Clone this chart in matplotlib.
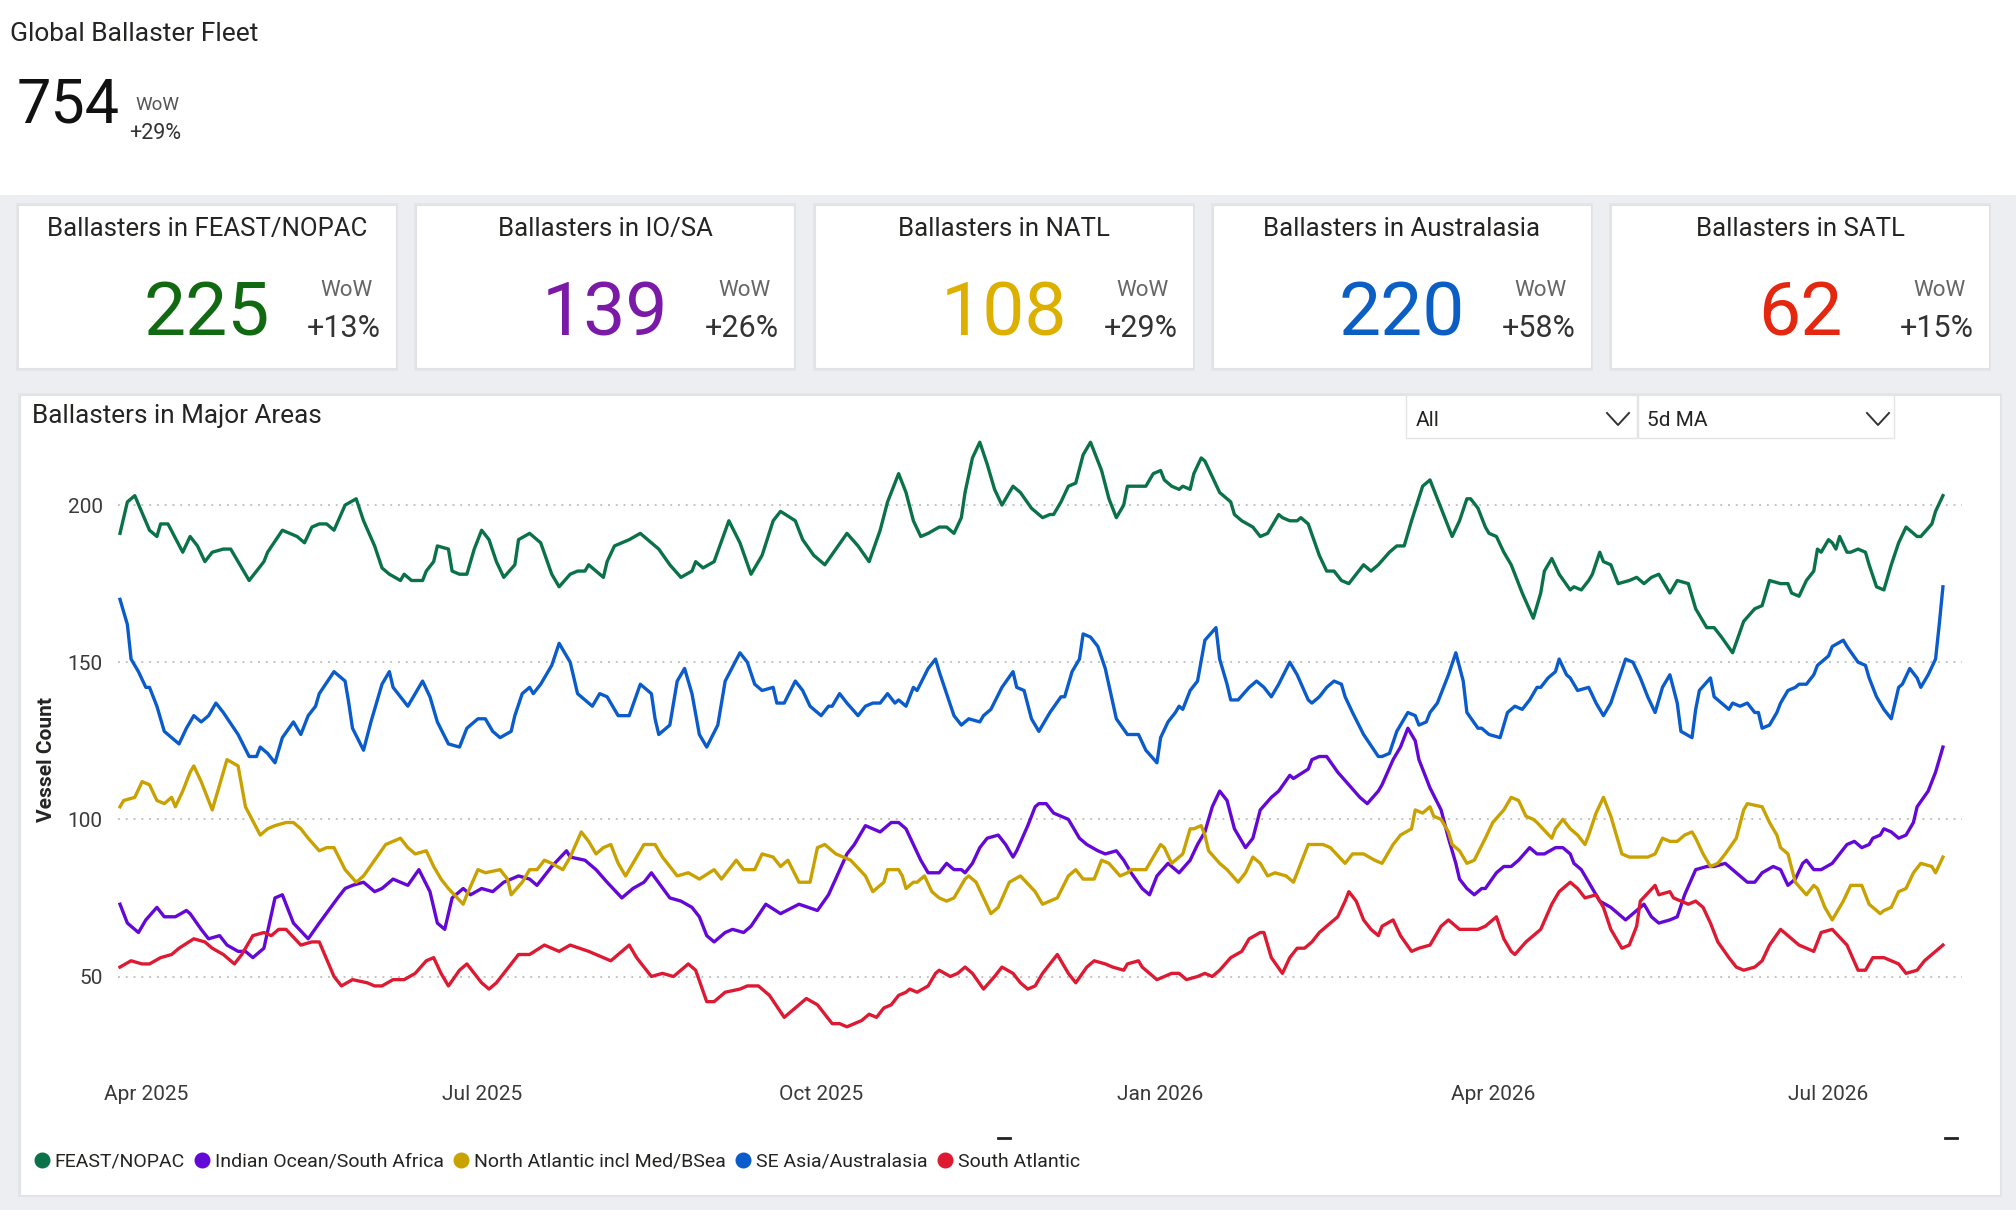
import numpy as np
import matplotlib
matplotlib.use("Agg")
import matplotlib.pyplot as plt
from matplotlib.patches import Rectangle
from matplotlib.lines import Line2D

plt.rcParams['font.family'] = ['Roboto', 'DejaVu Sans']

# ---------------- data ----------------
start_date = '2025-03-25'   # day 0 of the series (5d moving average)

feast_nopac = [(0,191),(2,201),(4,203),(8,192),(10,190),(11,194),(13,194),(17,185),(19,190),(21,187),(23,182),(25,185),(28,186),(30,186),(31,184),(35,176),(37,179),(39,182),(40,185),(44,192),(48,190),(50,188),(52,193),(54,194),(56,194),(58,192),(61,200),(64,202),(66,195),(69,187),(71,180),(73,178),(76,176),(77,178),(79,176),(82,176),(83,179),(85,182),(86,187),(89,186),(90,179),(92,178),(94,178),(96,186),(98,192),(100,189),(102,182),(104,177),(107,181),(108,189),(111,191),(114,188),(117,178),(119,174),(122,178),(124,179),(126,179),(127,181),(131,177),(132,182),(134,187),(136,188),(138,189),(141,191),(144,188),(146,186),(149,181),(152,177),(155,179),(156,182),(158,180),(161,182),(165,195),(168,188),(171,178),(174,184),(177,195),(179,198),(183,195),(185,189),(188,184),(191,181),(194,186),(197,191),(200,187),(203,182),(206,192),(208,201),(211,210),(213,204),(215,195),(217,190),(219,191),(222,193),(224,193),(226,191),(228,196),(229,204),(231,215),(233,220),(235,213),(237,205),(239,200),(242,206),(244,204),(247,199),(250,196),(252,197),(253,197),(255,201),(257,206),(259,207),(261,216),(263,220),(266,211),(268,202),(270,196),(272,200),(273,206),(275,206),(278,206),(280,210),(282,211),(283,208),(285,206),(287,205),(288,206),(290,205),(291,210),(293,215),(294,214),(296,209),(298,204),(301,201),(302,197),(304,195),(307,193),(309,190),(311,191),(314,197),(315,196),(317,195),(319,195),(320,196),(322,194),(325,184),(327,179),(329,179),(331,176),(333,175),(335,178),(337,181),(339,179),(341,181),(344,185),(346,187),(348,187),(350,195),(353,206),(355,208),(357,202),(359,196),(361,190),(363,195),(365,202),(366,202),(368,199),(370,193),(371,191),(373,190),(375,185),(377,181),(378,178),(380,172),(383,164),(385,172),(386,179),(388,183),(390,178),(393,173),(394,174),(396,173),(398,176),(399,178),(401,185),(402,182),(404,181),(406,175),(409,176),(411,177),(413,175),(415,177),(417,178),(420,172),(421,174),(422,176),(425,175),(427,167),(430,161),(432,161),(434,158),(437,153),(440,163),(443,167),(445,168),(447,176),(450,175),(452,175),(453,172),(455,171),(457,176),(459,179),(460,186),(461,185),(463,189),(464,188),(465,186),(466,190),(468,185),(469,185),(471,186),(473,185),(474,181),(476,174),(478,173),(480,181),(482,188),(484,193),(487,190),(488,190),(491,194),(492,198),(494,203)]

indian_ocean = [(0,73),(2,67),(5,64),(7,68),(10,72),(12,69),(15,69),(18,71),(19,70),(22,65),(24,62),(27,63),(29,60),(32,58),(34,58),(36,56),(39,59),(42,75),(44,76),(47,67),(51,62),(54,67),(59,75),(61,78),(63,79),(66,80),(69,77),(71,78),(74,81),(78,79),(81,84),(84,77),(86,67),(88,65),(90,75),(93,78),(95,76),(98,78),(101,77),(104,80),(108,82),(111,81),(113,79),(117,85),(121,90),(122,88),(126,87),(129,84),(132,80),(136,75),(139,78),(142,80),(144,83),(149,75),(152,74),(155,72),(157,69),(159,63),(161,61),(164,64),(166,65),(169,64),(171,66),(175,73),(179,70),(184,73),(189,71),(192,76),(197,89),(199,92),(202,98),(204,97),(206,96),(209,99),(211,99),(213,97),(215,92),(217,87),(219,83),(222,83),(224,86),(226,84),(228,84),(229,83),(231,86),(233,91),(235,94),(238,95),(240,92),(242,88),(243,90),(246,98),(248,104),(249,105),(251,105),(253,102),(255,101),(257,100),(260,94),(262,92),(265,90),(267,89),(270,90),(272,87),(274,83),(277,78),(279,76),(281,82),(284,86),(287,83),(290,87),(292,92),(294,96),(296,104),(298,109),(300,106),(302,97),(305,91),(307,94),(309,103),(312,107),(314,109),(317,114),(318,113),(322,116),(323,119),(325,120),(327,120),(330,115),(333,111),(336,107),(338,105),(341,109),(342,111),(345,119),(347,123),(349,129),(351,125),(352,119),(355,110),(358,103),(360,94),(362,86),(363,81),(365,78),(367,76),(369,78),(370,78),(373,83),(375,85),(377,85),(379,87),(382,91),(384,89),(386,89),(389,91),(391,91),(393,89),(394,86),(396,84),(398,80),(401,74),(404,72),(406,70),(408,68),(411,71),(413,73),(415,69),(417,67),(420,68),(422,69),(424,76),(427,84),(430,85),(432,85),(435,86),(438,83),(441,80),(443,80),(445,83),(448,85),(450,84),(452,79),(454,81),(456,86),(457,87),(459,84),(461,84),(464,86),(466,89),(468,92),(470,93),(472,91),(474,92),(475,94),(477,95),(478,97),(480,96),(482,94),(484,95),(486,99),(487,104),(490,109),(492,115),(494,123)]

north_atlantic = [(0,104),(1,106),(4,107),(6,112),(8,111),(10,106),(12,105),(14,107),(15,104),(17,109),(19,115),(20,117),(22,112),(24,106),(25,103),(27,111),(29,119),(32,117),(34,104),(38,95),(40,97),(42,98),(45,99),(47,99),(49,97),(51,94),(54,90),(56,91),(58,91),(61,84),(64,80),(66,82),(69,87),(72,92),(74,93),(76,94),(78,91),(80,89),(83,90),(85,85),(87,81),(89,78),(93,73),(94,76),(97,84),(99,83),(103,84),(105,81),(106,76),(109,80),(111,84),(113,84),(115,87),(117,86),(120,84),(122,88),(125,96),(127,93),(129,89),(131,91),(133,92),(135,86),(137,82),(140,88),(142,92),(145,92),(147,88),(151,82),(154,83),(157,81),(161,84),(163,81),(167,87),(169,84),(172,84),(174,89),(177,88),(179,85),(181,87),(184,80),(187,80),(189,91),(191,92),(194,89),(198,87),(202,82),(204,77),(205,78),(207,80),(208,84),(211,84),(212,82),(213,78),(215,80),(216,80),(218,82),(220,77),(222,75),(224,74),(226,75),(229,81),(230,82),(232,80),(234,75),(236,70),(238,72),(241,80),(244,82),(248,77),(250,73),(252,74),(254,75),(257,82),(259,84),(261,81),(264,81),(266,87),(268,86),(271,82),(273,83),(274,84),(278,84),(280,88),(282,92),(283,91),(285,86),(288,89),(290,97),(291,97),(293,98),(294,95),(295,90),(298,86),(300,84),(303,80),(305,83),(307,88),(309,86),(311,82),(313,83),(316,82),(318,80),(320,86),(322,92),(324,92),(326,92),(328,91),(332,86),(334,89),(337,89),(340,87),(342,86),(345,92),(347,95),(350,97),(351,103),(353,102),(355,104),(356,101),(358,100),(360,96),(361,92),(363,90),(365,86),(367,87),(370,94),(372,99),(375,103),(377,107),(379,106),(381,101),(383,100),(384,99),(388,94),(389,97),(391,100),(393,97),(395,95),(397,92),(398,95),(400,102),(402,107),(404,101),(407,89),(409,88),(412,88),(414,88),(416,89),(418,94),(420,93),(422,93),(424,95),(426,96),(427,94),(429,89),(431,85),(433,86),(435,89),(438,94),(440,103),(441,105),(445,104),(447,99),(449,95),(450,91),(452,89),(454,80),(457,76),(459,79),(460,78),(462,72),(464,68),(467,74),(469,79),(472,79),(474,73),(477,70),(478,71),(480,72),(482,77),(484,78),(486,83),(488,86),(491,85),(492,83),(494,88)]

se_asia = [(0,170),(2,162),(3,151),(5,147),(7,142),(8,142),(10,136),(12,128),(14,126),(16,124),(18,129),(20,133),(22,131),(24,133),(26,137),(28,134),(32,127),(35,120),(37,120),(38,123),(40,121),(42,118),(44,126),(47,131),(49,127),(51,133),(53,136),(54,140),(58,147),(61,144),(62,137),(63,129),(66,122),(68,131),(71,143),(73,147),(74,142),(78,136),(82,144),(84,139),(86,131),(89,124),(92,123),(94,129),(97,132),(99,132),(101,128),(103,126),(106,128),(107,133),(109,140),(111,142),(112,140),(114,143),(117,149),(119,156),(122,150),(124,140),(128,136),(130,140),(132,139),(135,133),(138,133),(141,143),(144,140),(145,132),(146,127),(149,130),(151,144),(153,148),(155,140),(157,127),(159,123),(162,130),(164,144),(168,153),(170,150),(172,143),(174,141),(177,142),(178,137),(180,137),(183,144),(185,141),(187,136),(190,133),(192,136),(193,136),(195,140),(197,137),(200,133),(202,136),(204,137),(206,137),(208,140),(210,137),(211,138),(213,136),(215,142),(216,141),(219,148),(221,151),(222,147),(224,140),(226,133),(228,130),(230,132),(233,131),(234,133),(236,135),(239,142),(242,147),(243,142),(245,141),(247,132),(249,128),(251,132),(252,134),(255,139),(256,139),(258,147),(260,151),(261,159),(263,158),(265,155),(267,148),(270,132),(273,127),(276,127),(278,122),(281,118),(282,126),(284,131),(286,134),(287,136),(288,135),(290,141),(292,144),(294,157),(297,161),(298,151),(300,143),(301,138),(303,138),(306,142),(308,144),(310,142),(312,139),(314,143),(317,150),(319,146),(322,138),(323,137),(325,139),(327,142),(329,144),(331,143),(332,139),(334,134),(337,127),(341,120),(342,120),(344,121),(346,128),(349,134),(351,133),(352,130),(354,131),(355,134),(357,137),(359,143),(360,146),(362,153),(364,144),(365,134),(368,129),(369,129),(371,127),(374,126),(376,134),(378,136),(380,135),(382,138),(384,142),(385,142),(387,145),(389,147),(390,151),(392,146),(393,145),(395,141),(398,142),(400,137),(402,133),(404,137),(406,144),(408,151),(410,150),(412,145),(414,139),(416,134),(418,142),(420,146),(422,137),(423,128),(426,126),(427,135),(428,141),(431,145),(432,139),(434,137),(436,135),(437,137),(439,136),(441,137),(443,134),(444,134),(445,129),(447,130),(449,134),(450,137),(452,141),(454,142),(455,143),(457,143),(459,146),(460,149),(462,151),(463,152),(464,155),(467,157),(468,155),(471,150),(473,149),(474,145),(476,139),(478,135),(480,132),(482,142),(483,143),(485,148),(487,145),(488,142),(490,146),(492,151),(493,162),(494,174)]

south_atlantic = [(0,53),(3,55),(6,54),(8,54),(11,56),(14,57),(16,59),(20,62),(23,61),(25,59),(28,57),(31,54),(33,57),(36,63),(39,64),(41,63),(43,65),(45,65),(49,60),(52,61),(54,61),(58,50),(60,47),(63,49),(67,48),(69,47),(71,47),(74,49),(77,49),(80,51),(83,55),(85,56),(87,51),(89,47),(92,52),(94,54),(98,48),(100,46),(102,48),(108,57),(111,57),(115,60),(119,58),(122,60),(127,58),(133,55),(138,60),(140,56),(144,50),(147,51),(150,50),(154,54),(156,52),(159,42),(161,42),(164,45),(168,46),(170,47),(173,47),(176,44),(180,37),(182,39),(186,43),(189,41),(193,35),(195,35),(197,34),(201,36),(203,38),(205,37),(207,40),(209,41),(211,44),(213,45),(214,46),(216,45),(219,47),(221,51),(222,52),(225,50),(227,51),(229,53),(231,51),(234,46),(237,50),(239,53),(242,51),(244,48),(246,46),(248,47),(250,51),(254,57),(257,51),(259,48),(262,53),(264,55),(267,54),(269,53),(272,52),(273,54),(276,55),(277,53),(279,51),(281,49),(283,50),(285,51),(287,51),(289,49),(292,50),(294,51),(296,50),(298,52),(301,56),(304,58),(306,62),(309,64),(310,64),(312,56),(315,51),(317,56),(319,59),(321,59),(323,61),(325,64),(327,66),(330,69),(332,74),(333,77),(335,74),(337,68),(339,65),(341,63),(342,66),(345,68),(347,63),(350,58),(352,59),(355,60),(358,66),(360,68),(361,67),(363,65),(365,65),(368,65),(370,66),(373,69),(375,62),(377,58),(378,57),(381,61),(385,65),(388,73),(390,77),(393,80),(395,78),(397,75),(400,76),(402,72),(404,65),(407,59),(409,60),(411,66),(412,74),(416,79),(417,76),(420,77),(421,75),(423,74),(425,73),(427,74),(429,72),(431,67),(433,61),(436,56),(438,53),(440,52),(443,53),(445,55),(447,60),(450,65),(452,63),(455,60),(459,58),(461,64),(464,65),(468,60),(471,52),(473,52),(475,56),(478,56),(480,55),(482,54),(484,51),(487,52),(489,55),(492,58),(494,60)]

series_names = ['FEAST/NOPAC', 'Indian Ocean/South Africa', 'North Atlantic incl Med/BSea',
                'SE Asia/Australasia', 'South Atlantic']
series_data = [feast_nopac, indian_ocean, north_atlantic, se_asia, south_atlantic]
series_colors = ['#0A7249', '#6408D8', '#C9A100', '#0A5BCC', '#DE1A33']

kpi_titles = ['Ballasters in FEAST/NOPAC', 'Ballasters in IO/SA', 'Ballasters in NATL',
              'Ballasters in Australasia', 'Ballasters in SATL']
kpi_values = ['225', '139', '108', '220', '62']
kpi_wow = ['+13%', '+26%', '+29%', '+58%', '+15%']
kpi_colors = ['#116A12', '#7A1AA6', '#DDB000', '#0B5EC3', '#E4280F']

global_title = 'Global Ballaster Fleet'
global_value = '754'
global_wow = '+29%'

x_tick_dates = ['2025-04-01', '2025-07-01', '2025-10-01', '2026-01-01', '2026-04-01', '2026-07-01']
x_tick_labels = ['Apr 2025', 'Jul 2025', 'Oct 2025', 'Jan 2026', 'Apr 2026', 'Jul 2026']
y_ticks = [50, 100, 150, 200]

# ---------------- layout helpers (pixel space) ----------------
W, H = 2016, 1210
fig = plt.figure(figsize=(W / 100, H / 100), dpi=100)
fig.patch.set_facecolor('white')

def fx(x):
    return x / W

def fy(y):
    return 1 - y / H

def rect(x0, y0, x1, y1, fc, ec='none', lw=0, z=0):
    fig.patches.append(Rectangle((fx(x0), fy(y1)), (x1 - x0) / W, (y1 - y0) / H,
                                 transform=fig.transFigure, facecolor=fc,
                                 edgecolor=ec, linewidth=lw, zorder=z))

def text_c(x, yc, s, size, color='#252423', ha='left', weight='normal'):
    # place text so that its cap height is centred on yc (pixels)
    base = yc + 0.355 * size * 100 / 72
    fig.text(fx(x), fy(base), s, fontsize=size, color=color, ha=ha, va='baseline',
             fontweight=weight)

# page background
rect(0, 195, W, H, '#eceef1', z=0)

# KPI cards
card_w = 378
for i in range(5):
    x0 = 18 + i * 398.3
    x1 = x0 + card_w
    rect(x0 - 2, 203, x1 + 2, 371, '#e3e5e9', z=1)
    rect(x0, 205, x1, 368, 'white', ec='#e0e2e6', lw=0.8, z=2)
    cx = (x0 + x1) / 2
    text_c(cx, 226.5, kpi_titles[i], 18.5, ha='center')
    text_c(cx, 309, kpi_values[i], 54, color=kpi_colors[i], ha='center')
    text_c(x1 - 50, 288, 'WoW', 16, color='#666666', ha='center')
    text_c(x1 - 52, 326, kpi_wow[i], 22, color='#333333', ha='center')

# Global fleet header
text_c(10, 32, global_title, 19)
text_c(17, 101, global_value, 44, color='#111111')
text_c(157, 103, 'WoW', 13.5, color='#555555', ha='center')
text_c(155, 131, global_wow, 15.5, color='#333333', ha='center')

# chart card
rect(18, 393, 2002, 1197, '#e3e5e9', z=1)
rect(20, 395, 2000, 1195, 'white', ec='#e0e2e6', lw=0.8, z=2)
text_c(32, 414, 'Ballasters in Major Areas', 18.8)

# dropdowns
rect(1406, 395, 1637, 438, 'white', ec='#e4e4e4', lw=1.0, z=3)
rect(1638, 395, 1894, 438, 'white', ec='#e4e4e4', lw=1.0, z=3)
text_c(1416, 419, 'All', 15, color='#252423')
text_c(1647, 419, '5d MA', 15, color='#252423')
for cx in (1618, 1878):
    fig.lines.append(Line2D([fx(cx - 11), fx(cx), fx(cx + 11)],
                            [fy(413), fy(425), fy(413)], transform=fig.transFigure,
                            color='#333333', linewidth=1.4, zorder=4))

# little slider marks under the axis
for x0, x1 in ((998, 1010), (1945, 1957)):
    fig.lines.append(Line2D([fx(x0), fx(x1)], [fy(1138), fy(1138)], transform=fig.transFigure,
                            color='#222222', linewidth=2.0, zorder=4))

# ---------------- line chart ----------------
ax_left, ax_right, ax_top, ax_bot = 118, 1962, 426.5, 1075.5
ax = fig.add_axes([fx(ax_left), fy(ax_bot), (ax_right - ax_left) / W, (ax_bot - ax_top) / H])
ax.set_facecolor('none')
ax.set_zorder(5)

t0 = np.datetime64(start_date)
for name, data, col in zip(series_names, series_data, series_colors):
    d = np.array([p[0] for p in data])
    v = np.array([p[1] for p in data], dtype=float)
    dates = t0 + d.astype('timedelta64[D]')
    ax.plot(dates, v, color=col, linewidth=2.4, solid_joinstyle='round', label=name)

ax.set_xlim(t0 - np.timedelta64(13, 'h'), t0 + np.timedelta64(int(499.2 * 24), 'h'))
ax.set_ylim(18.5, 225)
ax.set_xticks([np.datetime64(d) for d in x_tick_dates])
ax.set_xticklabels(x_tick_labels)
ax.set_yticks(y_ticks)
ax.set_yticklabels([str(v) for v in y_ticks])
ax.tick_params(axis='both', length=0, labelsize=15, labelcolor='#3a3a3a')
ax.tick_params(axis='y', pad=11)
ax.tick_params(axis='x', pad=7)
for s in ax.spines.values():
    s.set_visible(False)
ax.yaxis.grid(True, color='#c4c4c4', linewidth=1.4, linestyle=(0, (1, 3)))
ax.xaxis.grid(False)
ax.set_axisbelow(True)

fig.text(fx(47), fy(760), 'Vessel Count', rotation=90, ha='center', va='center',
         fontsize=15, color='#252423', fontweight='semibold')

handles = [Line2D([], [], marker='o', linestyle='none', markersize=10.5, color=c)
           for c in series_colors]
leg = fig.legend(handles, series_names, loc='center left', bbox_to_anchor=(fx(34), fy(1162)),
                 ncol=5, frameon=False, fontsize=14, handlelength=0.8, handletextpad=0.25,
                 columnspacing=0.5, borderaxespad=0, borderpad=0)
for t in leg.get_texts():
    t.set_color('#252423')
leg.set_zorder(6)

fig.savefig('out.png', dpi=100, facecolor=fig.get_facecolor())
